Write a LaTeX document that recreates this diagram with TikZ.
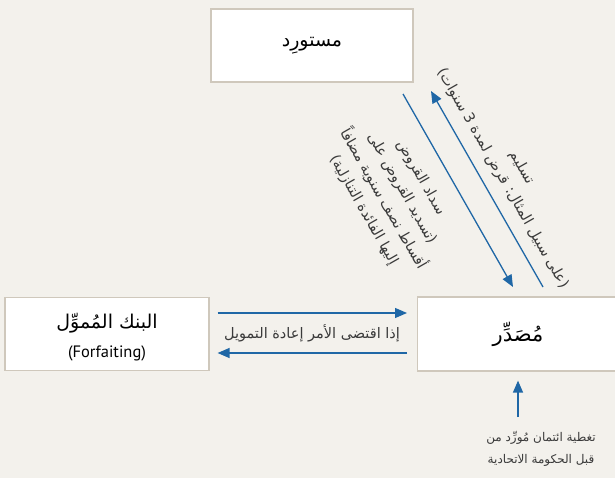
\documentclass[tikz,border=0pt]{standalone}
\usepackage{fontspec}
\setmainfont{DejaVu Sans}
\newfontfamily\arabicfont[Script=Arabic]{DejaVu Sans}
\newfontfamily\latinsans{PT Sans}
\TeXXeTstate=1
\usetikzlibrary{arrows.meta}
\definecolor{bg}{HTML}{F3F1EC}
\definecolor{boxline}{HTML}{CFC8BC}
\definecolor{arrowblue}{HTML}{1F67A6}
\definecolor{labelgray}{HTML}{3A3A3A}
\begin{document}
\begin{tikzpicture}[x=1pt,y=-1pt,
  box/.style={draw=boxline, line width=1.2pt, fill=white, inner sep=0pt},
  flow/.style={draw=arrowblue, line width=1.3pt, -{Triangle[length=12pt,width=10pt]}},
  title/.style={font=\arabicfont\fontsize{19}{22}\selectfont, text=black},
  lbl/.style={font=\arabicfont\fontsize{14.5}{22}\selectfont, text=labelgray, align=center},
  small/.style={font=\arabicfont\fontsize{12}{22}\selectfont, text=labelgray, align=center},
]
\fill[bg] (0,0) rectangle (615,478);
\useasboundingbox (0,0) rectangle (615,478);

% boxes
\node[box, minimum width=202pt, minimum height=73pt] (importer) at (312,45.5) {};
\node[box, minimum width=204pt, minimum height=73pt] (bank) at (107,334) {};
\node[box, minimum width=204pt, minimum height=74pt, anchor=west] (exporter) at (417,334) {};

% box texts
\node[title] (importerT) at (importer.center) {\beginR مستورِد\endR};
\node[title] (bankT) at (107,323) {\beginR البنك المُموِّل\endR};
\node[font=\latinsans\fontsize{16.5}{19}\selectfont] (bankS) at (107,353) {(Forfaiting)};
\node[title, font=\arabicfont\fontsize{21}{24}\selectfont] (exporterT) at (518,334) {\beginR مُصَدِّر\endR};

% horizontal connectors
\draw[flow] ([yshift=21pt,xshift=8pt]bank.east) -- ([yshift=21pt,xshift=-10pt]exporter.west);
\draw[flow] ([yshift=-19pt,xshift=-10pt]exporter.west) -- ([yshift=-19pt,xshift=8pt]bank.east);
\node[lbl] (refin) at (312,333) {\beginR إذا اقتضى الأمر إعادة التمويل\endR};

% diagonal connectors
\coordinate (d1s) at (403,94);
\coordinate (d1e) at (513,287);
\coordinate (d2s) at (543,287);
\coordinate (d2e) at (431,91);
\draw[flow] (d1s) -- (d1e);
\draw[flow] (d2s) -- (d2e);
\node[lbl, rotate=-60.3] (repay) at (392,194)
  {\beginR سداد القروض\endR\\
   \beginR (تسديد القروض على\endR\\
   \beginR أقساط نصف سنوية مضافاً\endR\\
   \beginR إليها الفائدة التنازلية)\endR};
\node[lbl, rotate=-60.3] (deliver) at (512,173)
  {\beginR تسليم\endR\\
   \beginR (على سبيل المثال: قرض لمدة \beginL 3\endL{} سنوات)\endR};

% vertical connector
\coordinate (cov) at (518,417);
\draw[flow] (cov) -- ([yshift=-9pt]exporter.south -| cov);
\node[small] (cover) at (541,449)
  {\beginR تغطية ائتمان مُورِّد من\endR\\
   \beginR قبل الحكومة الاتحادية\endR};
\end{tikzpicture}
\end{document}
